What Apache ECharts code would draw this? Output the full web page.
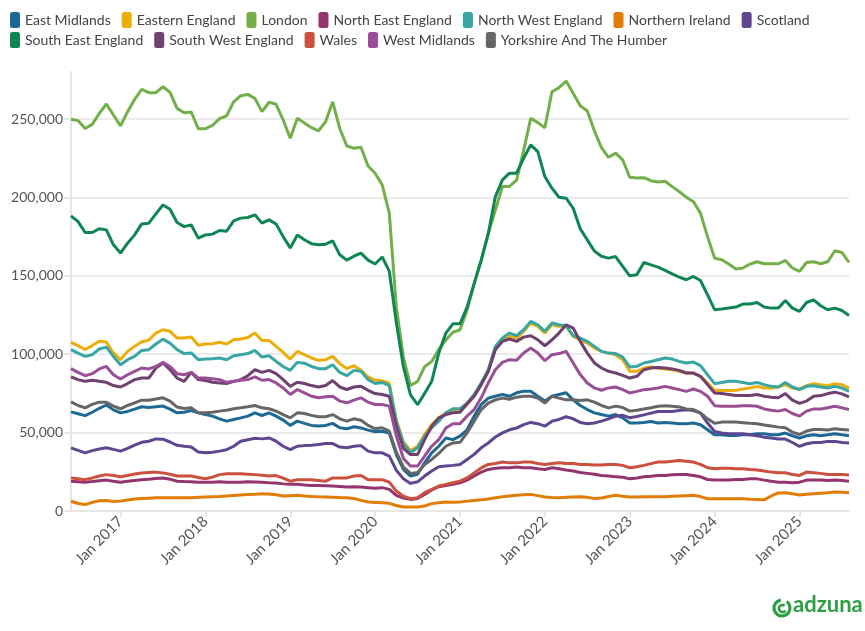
<!DOCTYPE html>
<html><head><meta charset="utf-8">
<script src="https://cdn.jsdelivr.net/npm/echarts@6/dist/echarts.min.js"></script>
<style>html,body{margin:0;padding:0;background:#fff}#c{width:865px;height:631px}</style>
</head><body><div id="c"></div>
<script>
// Monthly categories Jun 2016 .. Aug 2025
const months = [];
for (let y = 2016, m = 6; y < 2025 || (y === 2025 && m <= 8);) {
  months.push(y + '-' + String(m).padStart(2, '0'));
  m++; if (m > 12) { m = 1; y++; }
}
const monthNames = ['Jan','Feb','Mar','Apr','May','Jun','Jul','Aug','Sep','Oct','Nov','Dec'];
const yTicks = [0, 50000, 100000, 150000, 200000, 250000];

const eastMidlands = [63200,62000,60800,63000,65500,67600,64500,62600,63500,65000,
 66500,66000,66500,66900,65000,62600,63000,64100,62600,61500,
 60500,58800,57300,58400,59400,60500,62600,60900,62600,60500,
 58000,54600,57300,55900,54600,54200,54600,55900,53100,52400,
 53700,53000,51600,50500,50900,49800,36000,26500,22300,23400,
 30700,37100,41300,46600,45500,47700,51800,60500,67900,72000,
 73200,74300,73200,75400,76400,76400,73200,70100,73200,74300,
 75400,70900,67300,64700,62600,61500,60500,61500,59400,56100,
 56100,56500,57100,56100,56500,56100,55700,55700,56100,55000,
 51800,48600,48600,48200,48200,48600,48600,49300,49300,48600,
 48600,49700,48000,46500,48000,48600,48000,48600,49300,48600,
 48000];
const easternEngland = [107500,105500,103000,105500,108300,107800,100800,96500,101800,105000,
 108000,109000,113500,115600,114600,110300,110300,111000,105700,106500,
 106700,107600,106500,109200,109700,110700,113500,108800,108800,105000,
 101200,96900,101800,99700,97600,96100,96500,98600,94000,90800,
 92700,89700,85500,83400,83000,81500,58000,44000,38600,41300,
 48800,55100,59400,62600,63700,63700,67900,73200,80600,89100,
 103900,109200,111800,110300,114600,119900,117800,113500,118800,117800,
 117800,111400,109200,107100,103900,101800,100700,99700,96500,89100,
 89100,91200,91900,91200,90600,90100,89100,88000,88000,85900,
 81700,77000,76800,76800,77000,77800,78400,79500,78400,78400,
 79100,80600,78400,77800,79900,81200,80600,79900,81200,80600,
 78400];
const london = [249800,249000,244000,246600,253600,259600,252600,245600,254700,262600,
 269000,266800,266800,270600,267000,256800,254000,254500,243800,243800,
 246000,250200,252000,261000,264900,265700,263200,254700,260700,259400,
 249400,237700,250500,247500,244500,242500,248300,261000,244000,232800,
 231400,232000,220000,215400,208000,190000,130000,98000,80000,82700,
 92000,95400,103000,109000,114000,115600,128000,145000,160000,177000,
 192000,207000,207000,211000,230000,250500,247700,244500,267400,270000,
 274200,266400,258500,255200,242500,231800,225600,228200,224000,212900,
 212400,212600,210700,209900,210300,206900,203700,200100,197300,190000,
 175000,161300,160200,157500,154300,155000,157500,159000,157700,157700,
 157700,159800,155000,152800,158500,159000,157700,159000,166000,164900,
 158500];
const northEastEngland = [19000,18700,18400,18800,19300,19700,19000,18400,19000,19500,
 20000,20300,20700,21100,20300,19000,18800,18700,18400,18400,
 18400,18600,18400,18400,18400,18600,18500,18300,18000,17800,
 17300,17000,17000,16600,16300,16300,16100,15900,15600,15300,
 15500,15300,14900,14500,14900,13800,10000,8200,7400,8000,
 10600,13400,15500,16300,17000,18000,19700,22300,24800,26500,
 27200,27600,27600,28000,27600,27600,27000,26500,27600,27000,
 26100,25500,24500,24000,23400,22700,22300,21900,21500,20500,
 21000,21800,22200,22700,22700,23100,23300,23300,22700,21800,
 20100,19700,19700,19700,20100,20100,20500,20500,19700,19000,
 18400,18400,18000,18400,19700,19700,19700,19400,19700,19400,
 19000];
const northWestEngland = [102900,100700,98600,99700,103300,104500,98600,93300,96500,98600,
 102400,102900,106500,109600,107100,102900,100400,100800,96500,96900,
 97100,97600,96500,99000,99700,100400,102400,98200,99000,95400,
 92200,89700,94800,94300,92200,90800,90800,93300,88400,86300,
 89700,89100,83800,81300,82000,80000,57000,43000,37100,40300,
 47700,53100,57300,62600,65200,65200,68800,74300,81700,90100,
 105000,110300,113500,111800,115600,120900,118800,114600,119900,118800,
 118200,111800,110300,108200,105000,101800,100700,100400,98200,91900,
 92300,94400,95400,96500,97600,96900,95400,94400,95000,92700,
 86900,81200,82000,82700,82700,82000,81200,82000,80600,79500,
 79100,82000,79100,77400,79500,79900,79100,78400,79500,78400,
 76300];
const northernIreland = [6200,4800,4100,5500,6500,6700,6000,6300,7000,7600,
 8000,8200,8400,8500,8500,8400,8400,8500,8700,8900,
 9100,9300,9600,9900,10200,10500,10700,11000,10800,10300,
 9600,9800,10000,9600,9300,9100,9000,8800,8600,8500,
 8000,6800,5700,5500,5200,4900,3500,2500,2500,2500,
 3200,4700,5300,5700,5600,5700,6300,6700,7100,7700,
 8400,9100,9600,10000,10400,10600,9800,8900,8600,8500,
 8800,9000,9100,8700,8000,8300,9300,10000,9400,8900,
 9000,9100,9100,9100,9100,9400,9600,9800,10000,9200,
 7800,7800,7800,7800,7800,7800,7500,7400,7100,9600,
 11500,11700,11000,10200,10700,11000,11300,11600,12100,11900,
 11700];
const scotland = [40300,38700,37100,38500,39500,40300,39300,38200,40000,42000,
 43800,44500,46000,45800,44000,41900,41300,40800,37700,37100,
 37500,38200,39100,41300,44500,45500,46400,46000,46600,44500,
 41300,39100,41300,41700,41900,42400,43000,43000,40800,40300,
 41300,41700,38200,37100,37100,35000,26000,20500,17600,18600,
 22300,25500,28200,28700,29100,29700,32900,36100,40300,43400,
 47200,49800,51800,52900,55100,56500,55700,54100,57300,58400,
 60100,58800,56500,55700,56100,57300,58800,60500,61000,59500,
 60300,61300,62400,63500,63500,63500,64100,64500,64100,62400,
 56100,50700,49700,49300,49300,49300,48600,48000,47100,46500,
 45900,45900,43700,41200,42900,43700,43700,44400,44400,43700,
 43300];
const southEastEngland = [188200,184600,177600,177600,180000,179300,169800,164500,170800,176100,
 183100,183600,189500,195200,192500,184000,181400,182500,174000,176100,
 176600,178900,178500,185000,186800,187200,188900,183600,185700,183000,
 175000,167700,176000,173000,170500,169800,170200,172300,163400,160000,
 162500,164500,160000,157500,162000,153000,120000,92000,74000,67800,
 75000,82700,100800,113500,119400,119400,130000,145000,160000,177000,
 200500,211200,215500,215500,225000,233500,229200,213300,205900,200100,
 199500,193100,180000,172900,165800,162500,161300,162300,156000,150000,
 150700,158500,157000,155500,153500,151300,149200,147500,149600,147000,
 137900,128400,128800,129500,130100,132000,132000,133000,130100,129400,
 129400,134300,129400,127300,133000,134700,130900,128400,129400,127900,
 124700];
const southWestEngland = [85500,83800,82700,83400,82700,82100,80000,79100,81300,83800,
 84800,84800,91200,94400,90100,84800,82700,88400,83800,83200,
 82100,81700,81300,82700,83800,86300,90100,88400,89700,87600,
 83800,79500,82100,81300,80000,79100,80000,83200,79100,77500,
 79100,79500,77000,74900,74300,73200,54000,40000,36000,36000,
 45500,54100,59400,61500,62600,63000,68400,73200,80600,89100,
 102900,108200,109700,108200,110900,111800,109200,105400,109200,113500,
 118800,116700,108200,100700,94400,91200,89100,88000,86500,84800,
 85900,90100,91200,91600,91200,90600,89700,88000,88000,85900,
 80600,75300,74900,74300,73600,73600,73600,74300,73200,72600,
 72200,74900,70700,68600,70100,73200,73600,74900,75800,74700,
 72800];
const wales = [21100,20600,20000,21100,22300,23200,22600,21800,22600,23600,
 24300,24600,24800,24300,23400,22300,22300,22300,21400,20600,
 21600,23200,23800,23800,23800,23500,23200,22800,22300,22600,
 21000,19000,20000,20000,20000,19500,19000,21100,21100,21100,
 22300,22600,20000,20000,20000,18400,12700,9500,7900,8500,
 11700,13800,15900,17000,18000,19000,21100,24300,27500,29700,
 30300,31200,30700,30700,31200,31200,30300,29700,30300,30700,
 30300,30300,29700,29700,29300,29300,29700,29700,29100,27600,
 28200,29100,30200,31200,31200,31800,32200,31800,31200,29700,
 27600,27000,27200,27200,27000,27000,26500,26100,25500,24800,
 24400,24400,23300,22700,24800,24400,24000,23300,23300,23300,
 22900];
const westMidlands = [90800,88400,86300,87600,90600,92200,86900,84200,86900,89100,
 91200,90600,92200,94800,92200,87600,86900,88400,84800,84800,
 84400,83800,82100,82700,83400,83800,85500,83400,83800,81700,
 78500,74300,77500,75400,73200,72200,72800,73200,70100,69000,
 70700,72200,69400,67900,67900,66900,48000,33500,28700,28700,
 35000,41300,45500,52900,55700,55700,60500,64700,72200,81700,
 90100,94800,96500,96100,100800,103900,100800,95900,99700,100400,
 101800,94400,87000,81700,78500,77000,78500,79100,77400,75300,
 76300,77400,77800,78400,79500,78400,77400,76300,77800,76300,
 73200,67200,66800,66800,66800,67200,67200,66800,65100,64300,
 63700,64700,62200,60500,63700,65100,65100,65800,66800,65800,
 64700];
const yorkshire = [69600,67300,65800,68000,69400,69400,66900,65200,67300,69000,
 70700,70700,71500,72200,70100,66300,65400,65800,62600,62600,
 63000,63700,64300,65200,65800,66500,67300,65800,65200,63700,
 61500,59400,62600,62200,61000,60100,60100,61500,58800,57300,
 58800,57900,54600,52400,53100,50900,37500,28000,24000,24500,
 29700,32900,36700,41300,43400,43800,49800,57300,64700,68800,
 70900,72000,71300,72600,73200,73200,72000,68800,73200,72000,
 70900,70900,70500,70900,69400,67300,65800,66900,66000,63700,
 64300,65100,65800,66800,67200,66800,66400,65100,64700,62600,
 58800,55900,56700,56700,56700,56300,55900,55700,54800,54200,
 53500,53100,50300,48800,51000,52000,52000,51600,52400,52000,
 51600];

const seriesNames = ['East Midlands','Eastern England','London','North East England','North West England','Northern Ireland','Scotland','South East England','South West England','Wales','West Midlands','Yorkshire And The Humber'];
const seriesData = [eastMidlands, easternEngland, london, northEastEngland, northWestEngland, northernIreland, scotland, southEastEngland, southWestEngland, wales, westMidlands, yorkshire];
const colors = ['#1D6996','#EDAD08','#73AF48','#94346E','#38A6A5','#E17C05','#5F4690','#0F8554','#6F4070','#CC503E','#994E95','#666666'];

const FONT = 'Lato';
const isJan = (i, v) => v.endsWith('-01');
const legendBase = {
  icon: 'roundRect', itemWidth: 10, itemHeight: 16, itemGap: 11, left: 10, padding: 0,
  textStyle: { fontFamily: FONT, fontSize: 14, color: '#444' },
  selectedMode: false
};

const chart = echarts.init(document.getElementById('c'), null, { renderer: 'canvas' });
chart.setOption({
  animation: false,
  color: colors,
  textStyle: { fontFamily: FONT },
  legend: [
    Object.assign({}, legendBase, { top: 12, data: seriesNames.slice(0, 7) }),
    Object.assign({}, legendBase, { top: 32, data: seriesNames.slice(7) })
  ],
  grid: { left: 71, right: 16, top: 72, bottom: 120, containLabel: false },
  xAxis: {
    type: 'category', data: months, boundaryGap: false,
    axisLine: { show: true, lineStyle: { color: '#e6e6e6', width: 2 } },
    axisTick: { show: true, interval: isJan, length: 6, lineStyle: { color: '#e6e6e6', width: 2 } },
    axisLabel: {
      interval: isJan, rotate: 45, margin: 8, fontFamily: FONT, fontSize: 15, color: '#555',
      formatter: v => monthNames[parseInt(v.slice(5), 10) - 1] + ' ' + v.slice(0, 4)
    },
    splitLine: { show: false }
  },
  yAxis: {
    type: 'value', min: 0, max: 280000, interval: 50000,
    axisLine: { show: true, lineStyle: { color: '#e6e6e6', width: 2 } },
    axisTick: { show: true, length: 7, customValues: yTicks, lineStyle: { color: '#e6e6e6', width: 2 } },
    axisLabel: {
      customValues: yTicks, margin: 8, fontFamily: FONT, fontSize: 14, color: '#555',
      formatter: v => Number(v).toLocaleString('en-US')
    },
    splitLine: { show: true, lineStyle: { color: '#ebebeb', width: 2 } }
  },
  series: seriesNames.map((n, k) => ({
    name: n, type: 'line', data: seriesData[k], showSymbol: false, symbol: 'none',
    lineStyle: { width: 3, color: colors[k] }, itemStyle: { color: colors[k] },
    emphasis: { disabled: true }, z: 2
  })),
  graphic: [
    { type: 'arc', shape: { cx: 782, cy: 608, r: 8, startAngle: -Math.PI * 0.3, endAngle: Math.PI * 1.45 },
      style: { stroke: '#2b9f3f', lineWidth: 3.2, fill: null } },
    { type: 'arc', shape: { cx: 782.5, cy: 608.5, r: 3.6, startAngle: Math.PI * 0.2, endAngle: Math.PI * 1.7 },
      style: { stroke: '#2b9f3f', lineWidth: 2.6, fill: null } },
    { type: 'text', left: 793, top: 594,
      style: { text: 'adzuna', fill: '#2b9f3f', font: 'bold 22px Lato' } }
  ]
});
</script>
</body></html>
